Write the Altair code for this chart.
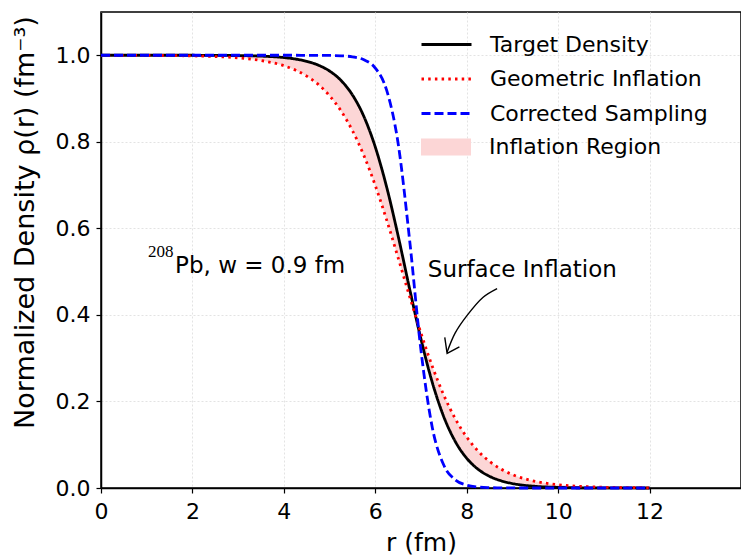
import altair as alt
import pandas as pd

# ---- data ----
r = [0, 0.5, 1, 1.5, 2, 2.5, 3, 3.5, 4, 4.25, 4.5, 4.75, 5, 5.25, 5.5, 5.75, 6, 6.25,
     6.5, 6.75, 7, 7.25, 7.5, 7.75, 8, 8.25, 8.5, 8.75, 9, 9.5, 10, 10.5, 11, 11.5, 12]
target = [1.000, 1.000, 1.000, 1.000, 1.000, 0.9997, 0.9993, 0.998, 0.9947, 0.9914, 0.986,
          0.9773, 0.9636, 0.9418, 0.9084, 0.8587, 0.788, 0.695, 0.5826, 0.4608, 0.3437,
          0.2428, 0.1642, 0.1074, 0.0686, 0.0432, 0.0269, 0.0167, 0.0103, 0.0039, 0.0015,
          0.0005, 0.0002, 0.0001, 0.0000]
geometric = [0.9999, 0.9998, 0.9997, 0.9993, 0.9986, 0.9971, 0.9941, 0.988, 0.9759, 0.9659,
             0.9519, 0.9327, 0.9065, 0.8715, 0.8259, 0.7685, 0.699, 0.619, 0.532, 0.443,
             0.3576, 0.2803, 0.2142, 0.1601, 0.1177, 0.0854, 0.0613, 0.0437, 0.031, 0.0154,
             0.0076, 0.0037, 0.0018, 0.0009, 0.0004]
corrected = [1.0, 1.0, 1.0, 1.0, 1.0, 1.0, 1.0, 1.0, 1.0, 1.0, 0.9999, 0.9998, 0.9996,
             0.9988, 0.9964, 0.9896, 0.9704, 0.9188, 0.796, 0.574, 0.3174, 0.1383, 0.0525,
             0.0188, 0.0066, 0.0023, 0.0008, 0.0003, 0.0001, 0.0, 0.0, 0.0, 0.0, 0.0, 0.0]

line_names = ["Target Density", "Geometric Inflation", "Corrected Sampling"]
line_colors = ["#000000", "#ff0000", "#0000ff"]
line_dash = [[1, 0], [2.5, 4.2], [9, 4]]
region_name = ["Inflation Region"]
region_color = ["#fcd6d6"]

x_ticks = [0, 2, 4, 6, 8, 10, 12]
y_ticks = [0.0, 0.2, 0.4, 0.6, 0.8, 1.0]

# annotation anchor values (data units)
label_text = ["Surface Inflation"]
label_r = [7.15]
label_v = [0.487]
iso_text = ["208"]
iso_r = [1.03]
iso_v = [0.533]
nuc_text = ["Pb, w = 0.9 fm"]
nuc_r = [1.62]
nuc_v = [0.498]
arrow_r = [8.665, 8.359, 8.009, 7.746, 7.571]
arrow_v = [0.461, 0.441, 0.399, 0.358, 0.314]
head_r = [7.52, 7.571, 7.84]
head_v = [0.348, 0.311, 0.326]

# ---- tables ----
rows = []
for name, vals in zip(line_names, [target, geometric, corrected]):
    for i, (rr, vv) in enumerate(zip(r, vals)):
        rows.append({"r": rr, "v": vv, "series": name, "idx": i})
lines_df = pd.DataFrame(rows)
area_df = pd.DataFrame({"r": r, "lo": target, "hi": geometric,
                        "region": region_name * len(r)})
arrow_df = pd.DataFrame({"r": arrow_r, "v": arrow_v, "idx": list(range(len(arrow_r)))})
head_df = pd.DataFrame({"r": head_r, "v": head_v, "idx": list(range(len(head_r)))})

FONT = "DejaVu Sans"
xscale = alt.Scale(domain=[0, 14], nice=False, zero=False)
yscale = alt.Scale(domain=[0, 1.1], nice=False)

leg_common = dict(orient="none", legendX=319, title=None, symbolSize=400, labelOffset=47,
                  labelFontSize=22, labelFont=FONT, labelColor="black", padding=0,
                  labelLimit=400, symbolOpacity=1)
leg_lines = alt.Legend(legendY=21, symbolType="M-1,0H4", rowPadding=11.5,
                       symbolStrokeWidth=2.8, **leg_common)
leg_region = alt.Legend(legendY=124, symbolType="M-1,-0.85H4V0.85H-1Z",
                        symbolStrokeWidth=0, **leg_common)

x_axis = alt.Axis(values=x_ticks, format="d", title="r (fm)", labelFontSize=22,
                  titleFontSize=25, titleFontWeight="normal", labelFont=FONT,
                  titleFont=FONT, domainColor="black", domainWidth=1.5,
                  tickColor="black", tickSize=5, tickWidth=1.2, labelColor="black",
                  titleColor="black", gridColor="#e3e3e3", gridDash=[2, 2],
                  titleY=62, titleBaseline="alphabetic", labelPadding=8,
                  labelFlush=False)
y_axis = alt.Axis(values=y_ticks, format=".1f", title="Normalized Density ρ(r) (fm⁻³)",
                  labelFontSize=22, titleFontSize=27, titleFontWeight="normal",
                  labelFont=FONT, titleFont=FONT, domainColor="black", domainWidth=1.5,
                  tickColor="black", tickSize=5, tickWidth=1.2, labelColor="black",
                  titleColor="black", gridColor="#e3e3e3", gridDash=[2, 2],
                  titleX=-68, titleY=210, titleBaseline="alphabetic", labelPadding=6,
                  labelFlush=False)

X = lambda f: alt.X(f, scale=xscale, axis=x_axis)
Y = lambda f: alt.Y(f, scale=yscale, axis=y_axis)

area = alt.Chart(area_df).mark_area(interpolate="monotone").encode(
    x=X("r:Q"), y=Y("lo:Q"), y2="hi:Q",
    fill=alt.Fill("region:N", scale=alt.Scale(domain=region_name, range=region_color),
                  legend=leg_region),
)

lines = alt.Chart(lines_df).mark_line(interpolate="monotone", strokeWidth=2.8).encode(
    x=X("r:Q"), y=Y("v:Q"),
    color=alt.Color("series:N", scale=alt.Scale(domain=line_names, range=line_colors),
                    legend=leg_lines),
    strokeDash=alt.StrokeDash("series:N", scale=alt.Scale(domain=line_names, range=line_dash),
                              legend=leg_lines),
    order="idx:Q",
)

def text_layer(texts, rs, vs, size, font):
    df = pd.DataFrame({"t": texts, "r": rs, "v": vs})
    return alt.Chart(df).mark_text(fontSize=size, font=font, align="left",
                                   baseline="alphabetic", color="black").encode(
        x=X("r:Q"), y=Y("v:Q"), text="t:N",
    )

arrow = alt.Chart(arrow_df).mark_line(color="black", strokeWidth=1.4,
                                      interpolate="catmull-rom").encode(
    x=X("r:Q"), y=Y("v:Q"), order="idx:Q",
)
head = alt.Chart(head_df).mark_line(color="black", strokeWidth=1.4).encode(
    x=X("r:Q"), y=Y("v:Q"), order="idx:Q",
)

chart = alt.layer(
    area, lines, arrow, head,
    text_layer(label_text, label_r, label_v, 23, FONT),
    text_layer(iso_text, iso_r, iso_v, 17, "Liberation Serif"),
    text_layer(nuc_text, nuc_r, nuc_v, 23, FONT),
).properties(
    width=640, height=476,
    autosize=alt.AutoSizeParams(type="none"),
    padding={"left": 101, "top": 12, "right": 0, "bottom": 68},
    background="white",
).configure_view(stroke="black", strokeWidth=1.5)

chart.save("out.html", embed_options={"renderer": "svg", "actions": False})
